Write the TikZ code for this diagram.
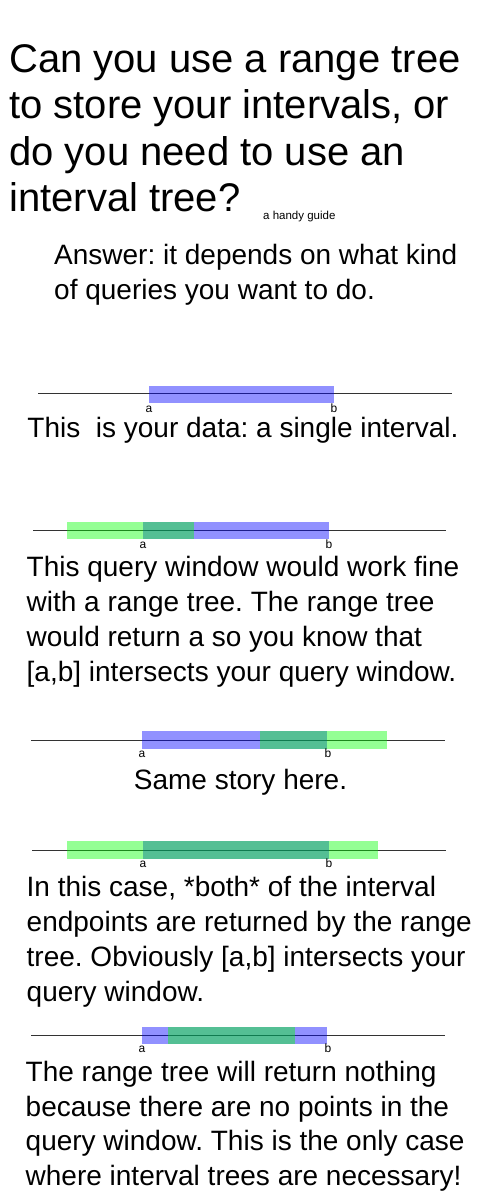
\documentclass[tikz,border=0pt]{standalone}
\usepackage{fontspec}
\setmainfont{Liberation Sans}
\frenchspacing
\begin{document}
% multi-line texts are placed by the baseline of their last line
\begin{tikzpicture}[x=1pt,y=-1pt,
  axis/.style={draw=black!80, line width=0.9pt},
  databar/.style={fill=blue, fill opacity=0.43, draw=none},
  querybar/.style={fill=green, fill opacity=0.42, draw=none},
  endlabel/.style={font=\fontsize{12}{14}\selectfont, anchor=base, inner sep=0pt},
  headline/.style={font=\fontsize{40}{46.5}\selectfont, align=left, anchor=base west, inner sep=0pt},
  bodytext/.style={font=\fontsize{28}{34.7}\selectfont, align=left, anchor=base west, inner sep=0pt},
  centredtext/.style={font=\fontsize{28}{34.7}\selectfont, anchor=base, inner sep=0pt},
  smallnote/.style={font=\fontsize{11.5}{13}\selectfont, anchor=base west, inner sep=0pt}
]
\fill[white] (0,0) rectangle (500,1200);
\useasboundingbox (0,0) rectangle (500,1200);

% heading
\node[headline] (heading) at (9,211.5) {Can you use a range tree\\to store your intervals, or\\do you need to use an\\interval tree?};
\node[smallnote] (guide) at (263,219) {a handy guide};
\node[bodytext] (answer) at (54,299) {Answer: it depends on what kind\\of queries you want to do.};

% 1: the data interval alone
\draw[axis] (38,393.7) -- (452,393.7);
\fill[databar] (149,385.5) rectangle (334,403);
\node[endlabel] (a1) at (149,412) {a};
\node[endlabel] (b1) at (334,412) {b};
\node[centredtext] (t1) at (243,437) {This\ \ is your data: a single interval.};

% 2: window overlapping the left end
\draw[axis] (33,530.7) -- (446,530.7);
\fill[databar] (143,522) rectangle (329,539);
\fill[querybar] (67,522) rectangle (194,539);
\node[endlabel] (a2) at (143,548) {a};
\node[endlabel] (b2) at (329,548) {b};
\node[bodytext] (t2) at (26.5,681) {This query window would work fine\\with a range tree. The range tree\\would return a so you know that\\{[a,b]} intersects your query window.};

% 3: window overlapping the right end
\draw[axis] (31,740.3) -- (445,740.3);
\fill[databar] (142,731.3) rectangle (327,749);
\fill[querybar] (260,731.3) rectangle (387,749);
\node[endlabel] (a3) at (142,757.5) {a};
\node[endlabel] (b3) at (328,757.5) {b};
\node[centredtext] (t3) at (240.5,789) {Same story here.};

% 4: window covering the whole interval
\draw[axis] (32,850) -- (446,850);
\fill[databar] (143,841) rectangle (329,858.7);
\fill[querybar] (67,841) rectangle (378,858.7);
\node[endlabel] (a4) at (143,867.5) {a};
\node[endlabel] (b4) at (329,867.5) {b};
\node[bodytext] (t4) at (26.5,1001) {In this case, *both* of the interval\\endpoints are returned by the range\\tree. Obviously [a,b] intersects your\\query window.};

% 5: window strictly inside the interval
\draw[axis] (31,1035.7) -- (445,1035.7);
\fill[databar] (142,1027) rectangle (327,1044);
\fill[querybar] (168,1027) rectangle (295,1044);
\node[endlabel] (a5) at (142,1052.7) {a};
\node[endlabel] (b5) at (328,1052.7) {b};
\node[bodytext] (t5) at (25.5,1185.5) {The range tree will return nothing\\because there are no points in the\\query window. This is the only case\\where interval trees are necessary!};
\end{tikzpicture}
\end{document}
